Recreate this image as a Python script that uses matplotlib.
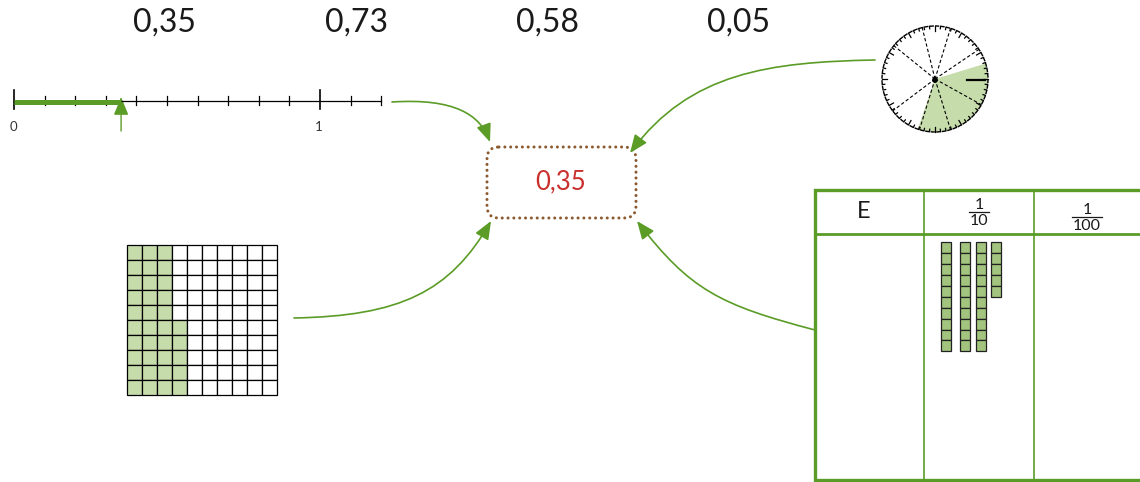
"""Five ways to show 0,35: number line, clock pie, hundred grid, place-value table."""

import matplotlib

matplotlib.use("Agg")

import matplotlib.pyplot as plt
import numpy as np
from matplotlib.patches import Circle, FancyArrowPatch, FancyBboxPatch, Rectangle, Wedge
from matplotlib.path import Path

plt.rcParams["font.family"] = ["Lato", "DejaVu Sans"]

# --- data -------------------------------------------------------------
top_values = ["0,35", "0,73", "0,58", "0,05"]
target_label = "0,35"
target_value = 0.35
line_ticks = np.round(np.arange(0, 1.21, 0.1), 1)
line_labels = {0.0: "0", 1.0: "1"}
grid_size = 10
grid_shaded = 35
pie_start_angle = 17
pie_radial_angles = [34, 73, 104, 141, 217, 253, 287, 331]
tenth_bars = [10, 10, 10, 5]
table_headers = ["E", ("1", "10"), ("1", "100")]

GREEN = "#5b9c27"
SHADE = "#c6dcab"
CUBE = "#a3c47e"
BROWN = "#8c5a30"
RED = "#c9302c"
INK = "#1a1a1a"

fig = plt.figure(figsize=(11.4, 4.82), dpi=100)
ax = fig.add_axes([0, 0, 1, 1])
ax.set_xlim(0, 1140)
ax.set_ylim(482, 0)
ax.axis("off")

# --- top row of numbers -------------------------------------------------
for i, label in enumerate(top_values):
    ax.text(165 + i * 191.3, 23, label, ha="center", va="center", fontsize=23, color=INK)

# --- number line -------------------------------------------------------
x0, unit, y_line = 14, 306, 101
ax.plot([x0, x0 + unit * line_ticks[-1]], [y_line, y_line], color="black", lw=0.9)
for t in line_ticks:
    x = x0 + unit * t
    half = 11 if t in line_labels else 5
    ax.plot([x, x], [y_line - half, y_line + half * 0.6 + 1], color="black", lw=1.2 if half > 6 else 0.9)
    if t in line_labels:
        ax.text(x - 1, 127, line_labels[t], ha="center", va="center", fontsize=9.5, color="#333333")
x_val = x0 + unit * target_value
ax.plot([x0, x_val], [y_line + 1, y_line + 1], color=GREEN, lw=3.6, solid_capstyle="butt")
ax.add_patch(FancyArrowPatch((x_val, 131), (x_val, 97), arrowstyle="-|>,head_length=11,head_width=4.5",
                             mutation_scale=1, color=GREEN, lw=1, shrinkA=0, shrinkB=0))

# --- clock style pie ---------------------------------------------------
cx, cy, r = 935, 79, 53
span = 360 * target_value
ax.add_patch(Wedge((cx, cy), r, -pie_start_angle, -pie_start_angle + span, facecolor=SHADE,
                   edgecolor="none"))
ax.add_patch(Circle((cx, cy), r, facecolor="none", edgecolor="black", lw=1.0, ls=(0, (3, 1))))
for k in range(60):
    a = np.radians(k * 6)
    ln = 5 if k % 5 == 0 else 2.5
    ax.plot([cx + r * np.cos(a), cx + (r - ln) * np.cos(a)],
            [cy - r * np.sin(a), cy - (r - ln) * np.sin(a)], color="black", lw=0.9)
for a_deg in pie_radial_angles:
    a = np.radians(a_deg)
    ax.plot([cx, cx + r * np.cos(a)], [cy, cy - r * np.sin(a)], color="black", lw=0.8, ls=(0, (3, 2)))
ax.plot([cx + 32, cx + 50], [cy + 1, cy + 1], color="black", lw=1.6)
ax.add_patch(Circle((cx, cy + 1), 2.2, color="black"))

# --- central box -------------------------------------------------------
box = FancyBboxPatch((487, 147), 149, 71, boxstyle="round,pad=0,rounding_size=12",
                     facecolor="white", edgecolor=BROWN, lw=2.2, ls=(0, (0.01, 1.9)))
box.set_capstyle("round")
ax.add_patch(box)
ax.text(561, 182, target_label, ha="center", va="center", fontsize=18.5, color=RED)

# --- hundred grid -----------------------------------------------------
gx, gy, cell = 127, 245, 15
for col in range(grid_size):
    for row in range(grid_size):
        filled = col * grid_size + (grid_size - 1 - row) < grid_shaded
        ax.add_patch(Rectangle((gx + col * cell, gy + row * cell), cell, cell,
                               facecolor=SHADE if filled else "white", edgecolor="black", lw=0.9))

# --- place value table ------------------------------------------------
tx, ty, tb, head = 815, 190, 480, 234
col_x = [815, 924, 1034, 1160]
ax.plot([1140, tx, tx, 1140], [ty, ty, tb, tb], color=GREEN, lw=2.4, solid_joinstyle="miter")
ax.plot([tx, 1140], [head, head], color=GREEN, lw=2.0)
for x in col_x[1:3]:
    ax.plot([x, x], [ty, tb], color=GREEN, lw=1.2)
for i, h in enumerate(table_headers):
    xc = (col_x[i] + min(col_x[i + 1], 1140)) / 2
    if isinstance(h, str):
        ax.text(xc - 6, 211, h, ha="center", va="center", fontsize=17, color=INK)
    else:
        num, den = h
        lift = 5 if len(den) == 2 else 0
        ax.text(xc, 210 - lift, num, ha="center", va="center", fontsize=11.5, color=INK)
        ax.plot([xc - 5 * len(den), xc + 5 * len(den)], [217 - lift, 217 - lift], color=INK, lw=0.9)
        ax.text(xc, 226 - lift, den, ha="center", va="center", fontsize=11.5, color=INK)
bar_x = [941, 960, 975.7, 991]
cube = 10.9
for x, n in zip(bar_x, tenth_bars):
    for j in range(n):
        ax.add_patch(Rectangle((x, 242.3 + j * cube), 10.4, cube, facecolor=CUBE,
                               edgecolor="#222222", lw=0.9))

# --- arrows -----------------------------------------------------------
curves = [
    [(392, 102), (455, 98), (480, 115), (490, 142)],
    [(875, 60), (770, 62), (690, 72), (630, 153)],
    [(294, 318), (400, 316), (450, 292), (491, 221)],
    [(815, 330), (720, 305), (690, 290), (637, 221)],
]
for pts in curves:
    path = Path(pts, [Path.MOVETO, Path.CURVE4, Path.CURVE4, Path.CURVE4])
    ax.add_patch(FancyArrowPatch(path=path, arrowstyle="-|>,head_length=11,head_width=4.5",
                                 mutation_scale=1, color=GREEN, lw=1.2, shrinkA=0, shrinkB=0))

fig.savefig("out.png", dpi=100)
